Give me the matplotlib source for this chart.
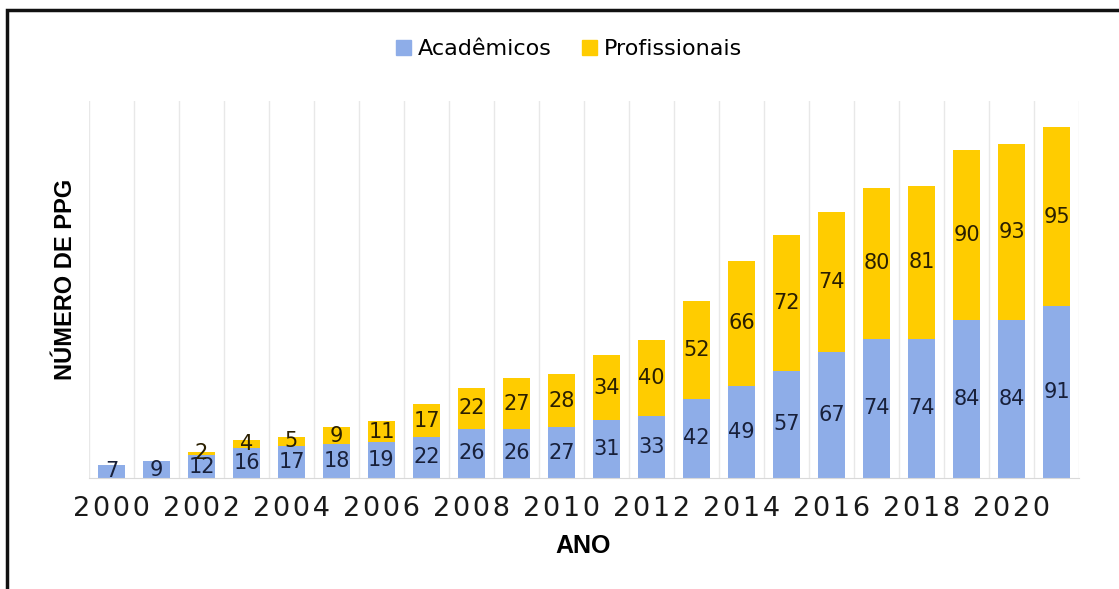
import numpy as np
import matplotlib.pyplot as plt
from matplotlib.patches import Patch, Rectangle

# Dados do gráfico
anos = list(range(2000, 2022))
academicos = [7, 9, 12, 16, 17, 18, 19, 22, 26, 26, 27, 31, 33, 42, 49, 57, 67, 74, 74, 84, 84, 91]
profissionais = [0, 0, 2, 4, 5, 9, 11, 17, 22, 27, 28, 34, 40, 52, 66, 72, 74, 80, 81, 90, 93, 95]
rotulos_x = [str(a) if a % 2 == 0 else '' for a in anos]

cor_acad = '#8EADE8'
cor_prof = '#FFCC00'

fig = plt.figure(figsize=(11.19, 5.89), dpi=100)
ax = fig.add_axes([89 / 1119, 1 - 478 / 589, 990 / 1119, 377 / 589])

x = np.arange(len(anos))
largura = 0.61

# Linhas de grade verticais entre as categorias
for xi in np.arange(len(anos) + 1) - 0.5:
    ax.axvline(xi, color='#e8e8e8', lw=1, zorder=0)

b1 = ax.bar(x, academicos, largura, color=cor_acad, zorder=2)
b2 = ax.bar(x, profissionais, largura, bottom=academicos, color=cor_prof, zorder=2)

# Rótulos de dados
for xi, a, p in zip(x, academicos, profissionais):
    ax.text(xi, a / 2, str(a), ha='center', va='center', fontsize=15,
            family='DejaVu Sans', color='#18203a', zorder=3)
    if p > 0:
        ax.text(xi, a + p / 2, str(p), ha='center', va='center', fontsize=15,
                family='DejaVu Sans', color='#2a1f00', zorder=3)

ax.set_xlim(-0.5, len(anos) - 0.5)
ax.set_ylim(0, 200)
ax.set_xticks(x)
ax.set_xticklabels(['\u200a'.join(r) for r in rotulos_x], fontsize=19.5, color='#1a1a1a',
                   family='DejaVu Sans')
ax.tick_params(axis='x', length=0, pad=13)
ax.set_yticks([])
for s in ['top', 'right', 'left']:
    ax.spines[s].set_visible(False)
ax.spines['bottom'].set_color('#d9d9d9')

fig.text(65 / 1119, 1 - 279 / 589, 'NÚMERO DE PPG', rotation=90, ha='center', va='center',
         fontsize=17, fontweight='bold', family='Liberation Sans')
fig.text(583 / 1119, 1 - 546 / 589, 'ANO', ha='center', va='center',
         fontsize=18, fontweight='bold', family='Liberation Sans')

# Legenda no topo
handles = [Patch(color=cor_acad, label='Acadêmicos'), Patch(color=cor_prof, label='Profissionais')]
fig.legend(handles=handles, loc='center', bbox_to_anchor=(569 / 1119, 1 - 49 / 589), ncol=2,
           frameon=False, prop={'family': 'DejaVu Sans', 'size': 16},
           handlelength=0.65, handleheight=0.65, handletextpad=0.3, columnspacing=1.4)

# Moldura preta em volta da figura
fig.patches.append(Rectangle((7 / 1119, -0.05), 1.2, 1 - 10 / 589 + 0.05, transform=fig.transFigure,
                             fill=False, edgecolor='#111111', lw=2.5))

fig.savefig('out.png', dpi=100)
